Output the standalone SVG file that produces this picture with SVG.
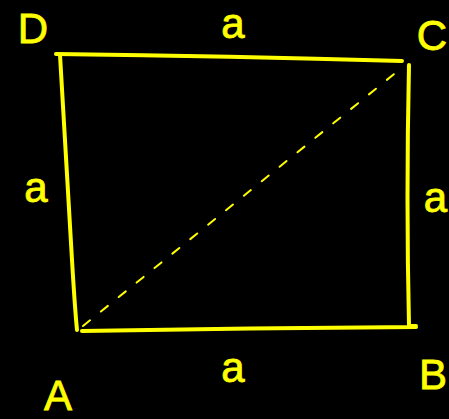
<svg xmlns="http://www.w3.org/2000/svg" width="449" height="419" viewBox="0 0 449 419">
<style>
.edge{fill:none;stroke:#ffff00;stroke-width:4;stroke-linecap:round;stroke-linejoin:round}
.diag{fill:none;stroke:#ffff00;stroke-width:2;stroke-dasharray:9 14;stroke-linecap:round}
.lbl{fill:#ffff00;stroke:#ffff00;stroke-width:0.8;font-family:"Liberation Sans","DejaVu Sans",sans-serif;font-size:42px;text-anchor:middle}
.end{text-anchor:end}
</style>
<rect width="449" height="419" fill="#000"/>
<g id="connectors">
<path class="edge" d="M56,54 Q230,56 402,61"/>
<path class="edge" d="M60,55 Q66,150 72,260 Q75,310 77,330"/>
<path class="edge" d="M409,65 Q406,200 409,325"/>
<path class="edge" d="M82,331 Q250,328 416,327 M410,326 L416,326"/>
<path class="diag" d="M83,326 L404,66"/>
</g>
<g id="D"><text class="lbl" x="33" y="43">D</text></g>
<g id="C"><text class="lbl end" x="447" y="50">C</text></g>
<g id="A"><text class="lbl" x="58" y="410">A</text></g>
<g id="B"><text class="lbl end" x="447" y="389">B</text></g>
<g id="a-top"><text class="lbl" x="233" y="38">a</text></g>
<g id="a-left"><text class="lbl" x="36" y="202">a</text></g>
<g id="a-right"><text class="lbl end" x="447" y="212">a</text></g>
<g id="a-bottom"><text class="lbl" x="233" y="382">a</text></g>
</svg>
